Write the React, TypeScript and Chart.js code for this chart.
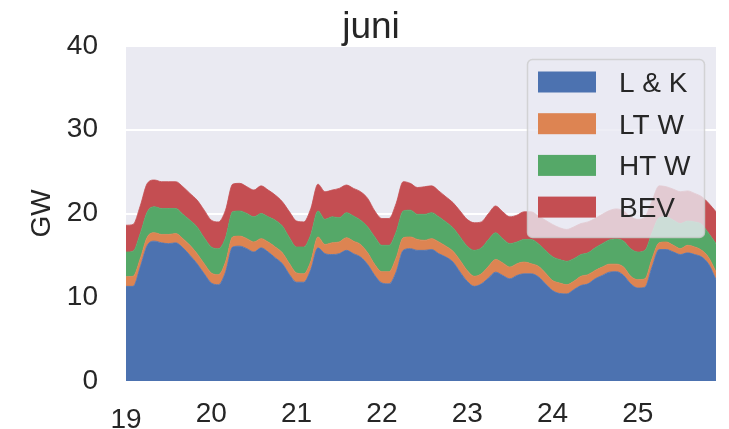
import React, { useEffect, useRef } from "react";
import { Chart, registerables } from "chart.js";

Chart.register(...registerables);

// ---- data ----
const title = "juni";
const yLabel = "GW";
const startDay = 19;
// hours since 19 juni 00:00
const hours = [
  0, 2, 4, 6, 8, 10, 12, 14, 16, 18, 20, 22,
  24, 26, 28, 30, 32, 34, 36, 38, 40, 42, 44, 46,
  48, 50, 52, 54, 56, 58, 60, 62, 64, 66, 68, 70,
  72, 74, 76, 78, 80, 82, 84, 86, 88, 90, 92, 94,
  96, 98, 100, 102, 104, 106, 108, 110, 112, 114, 116, 118,
  120, 122, 124, 126, 128, 130, 132, 134, 136, 138, 140, 142,
  144, 146, 148, 150, 152, 154, 156, 158, 160, 162, 164, 166,
];
const xTickDays = [19, 20, 21, 22, 23, 24, 25];
const yTicks = [0, 10, 20, 30, 40];
const seriesNames = ["L & K", "LT W", "HT W", "BEV"];

const lk = [
  11.3, 11.3, 13.6, 16.2, 16.7, 16.5, 16.4, 16.5, 15.9, 15.0, 14.0, 12.8,
  11.7, 11.5, 13.0, 16.0, 16.1, 15.8, 15.4, 15.9, 15.4, 14.7, 14.0, 12.7,
  11.8, 11.8, 13.3, 15.9, 15.2, 15.1, 15.2, 15.6, 15.2, 14.8, 13.9, 12.6,
  11.7, 11.6, 13.0, 15.6, 15.8, 15.6, 15.6, 15.7, 15.2, 14.8, 14.2, 13.0,
  11.9, 11.3, 11.6, 12.3, 13.0, 12.6, 12.2, 12.6, 12.8, 12.8, 12.45, 11.6,
  10.8, 10.45, 10.4, 10.9, 11.4, 11.6, 12.2, 12.6, 13.0, 13.05, 12.6, 11.6,
  11.1, 11.2, 13.6, 15.7, 15.7, 15.4, 15.1, 15.3, 15.1, 14.8, 13.9, 12.1,
];
const ltw = [
  1.15, 1.2, 1.0, 1.0, 1.0, 1.0, 1.1, 1.1, 1.1, 1.2, 1.2, 1.2,
  1.2, 1.2, 1.2, 1.2, 1.2, 1.2, 1.2, 1.1, 1.2, 1.3, 1.3, 1.3,
  1.1, 1.0, 1.0, 1.3, 1.1, 1.4, 1.4, 1.5, 1.5, 1.5, 1.4, 1.3,
  1.35, 1.45, 1.7, 1.5, 1.4, 1.3, 1.2, 1.3, 1.4, 1.3, 1.3, 1.4,
  1.3, 1.2, 1.2, 1.4, 1.5, 1.5, 1.4, 1.4, 1.4, 1.2, 1.25, 1.3,
  1.2, 1.25, 1.1, 1.0, 1.1, 1.1, 1.0, 1.0, 0.95, 0.9, 1.0, 0.9,
  1.0, 1.0, 1.0, 0.8, 0.9, 0.8, 0.7, 0.9, 0.9, 0.8, 0.8, 0.95,
];
const htw = [
  2.95, 3.0, 3.0, 3.0, 3.1, 3.1, 3.1, 3.0, 2.9, 3.0, 3.2, 3.1,
  3.1, 3.1, 2.9, 3.0, 3.0, 3.0, 3.0, 3.0, 3.0, 3.2, 3.2, 3.1,
  3.1, 3.2, 3.2, 3.1, 3.0, 3.1, 2.9, 3.0, 3.0, 2.9, 3.1, 3.3,
  3.15, 3.15, 3.1, 3.2, 3.2, 3.0, 3.1, 3.1, 3.0, 2.9, 2.8, 2.8,
  2.9, 3.1, 3.1, 3.2, 3.2, 2.9, 2.8, 2.6, 2.7, 2.9, 2.7, 2.7,
  2.85, 2.8, 2.8, 2.7, 2.6, 2.6, 2.7, 2.8, 2.9, 3.0, 3.1, 3.3,
  3.3, 3.4, 3.1, 3.0, 3.0, 3.0, 3.0, 2.9, 3.0, 3.1, 2.9, 3.35,
];
const bev = [
  3.2, 3.2, 3.3, 3.4, 3.2, 3.2, 3.2, 3.2, 3.3, 3.2, 3.2, 3.3,
  3.2, 3.2, 3.3, 3.3, 3.3, 3.2, 3.2, 3.3, 3.2, 3.0, 2.9, 3.1,
  3.1, 3.0, 3.1, 3.2, 3.3, 3.2, 3.5, 3.3, 3.3, 3.4, 3.4, 3.1,
  3.2, 3.2, 3.4, 3.5, 3.2, 3.2, 3.3, 3.2, 3.1, 3.0, 3.0, 3.1,
  3.2, 3.3, 3.1, 3.1, 3.2, 3.2, 3.2, 3.2, 3.3, 3.3, 3.3, 3.6,
  3.85, 3.8, 3.8, 3.8, 3.7, 3.7, 3.5, 3.5, 3.5, 3.6, 3.6, 3.8,
  3.9, 4.0, 3.8, 3.8, 3.6, 3.7, 3.8, 3.6, 3.4, 3.3, 3.6, 3.8,
];

// ---- style ----
const colors = ["#4C72B0", "#DD8452", "#55A868", "#C44E52"];
const textColor = "#262626";
const axesBg = "#EAEAF2";
const FONT = '"Liberation Sans", Arial, Helvetica, sans-serif';

const bgPlugin = {
  id: "axesBg",
  beforeDraw(chart: any) {
    const { ctx, chartArea } = chart;
    ctx.save();
    ctx.fillStyle = axesBg;
    ctx.fillRect(chartArea.left, chartArea.top, chartArea.right - chartArea.left, chartArea.bottom - chartArea.top);
    ctx.restore();
  },
};

function roundRectPath(ctx: CanvasRenderingContext2D, x: number, y: number, w: number, h: number, r: number) {
  ctx.beginPath();
  ctx.moveTo(x + r, y);
  ctx.lineTo(x + w - r, y);
  ctx.arcTo(x + w, y, x + w, y + r, r);
  ctx.lineTo(x + w, y + h - r);
  ctx.arcTo(x + w, y + h, x + w - r, y + h, r);
  ctx.lineTo(x + r, y + h);
  ctx.arcTo(x, y + h, x, y + h - r, r);
  ctx.lineTo(x, y + r);
  ctx.arcTo(x, y, x + r, y, r);
  ctx.closePath();
}

const legendPlugin = {
  id: "customLegend",
  afterDatasetsDraw(chart: any) {
    const { ctx, chartArea } = chart;
    ctx.save();
    const w = 177;
    const h = 178;
    const x = chartArea.right - 12 - w + 0.5;
    const y = chartArea.top + 13.5;
    roundRectPath(ctx, x, y, w, h, 5);
    ctx.fillStyle = "rgba(234,234,242,0.8)";
    ctx.fill();
    ctx.strokeStyle = "rgba(204,204,204,0.8)";
    ctx.lineWidth = 1.5;
    ctx.stroke();
    ctx.font = `28px ${FONT}`;
    ctx.textAlign = "left";
    ctx.textBaseline = "alphabetic";
    chart.data.datasets.forEach((ds: any, i: number) => {
      const cy = y + 22.5 + i * 41.7;
      ctx.fillStyle = ds.backgroundColor;
      ctx.fillRect(x + 10.5, cy - 10.5, 58, 21);
      ctx.fillStyle = textColor;
      ctx.fillText(ds.label, x + 91.5, cy + 10);
    });
    ctx.restore();
  },
};

const textPlugin = {
  id: "texts",
  afterDraw(chart: any) {
    const { ctx, chartArea } = chart;
    const xs = chart.scales.x;
    ctx.save();
    ctx.fillStyle = textColor;
    // title
    ctx.font = `37px ${FONT}`;
    ctx.textAlign = "center";
    ctx.textBaseline = "alphabetic";
    ctx.fillText(title, 371, chartArea.top - 8);
    // x tick labels
    ctx.font = `28px ${FONT}`;
    xTickDays.forEach((d, i) => {
      const px = xs.getPixelForValue(d);
      ctx.fillText(String(d), px, chartArea.bottom + (i === 0 ? 47 : 41));
    });
    // y label
    ctx.translate(40, (chartArea.top + chartArea.bottom) / 2);
    ctx.rotate(-Math.PI / 2);
    ctx.fillText(yLabel, 0, 10);
    ctx.restore();
  },
};

export default function App() {
  const canvasRef = useRef<HTMLCanvasElement | null>(null);

  useEffect(() => {
    document.body.style.margin = "0";
    const canvas = canvasRef.current;
    if (!canvas) return;
    const xVals = hours.map((h) => startDay + h / 24);
    const series = [lk, ltw, htw, bev];
    const chart = new Chart(canvas, {
      type: "line",
      data: {
        datasets: series.map((vals, i) => ({
          label: seriesNames[i],
          data: vals.map((v, j) => ({ x: xVals[j], y: v })),
          backgroundColor: colors[i],
          borderColor: colors[i],
          borderWidth: 0.8,
          pointRadius: 0,
          fill: i === 0 ? "origin" : "-1",
          cubicInterpolationMode: "monotone" as const,
        })),
      },
      options: {
        animation: false,
        responsive: false,
        maintainAspectRatio: false,
        layout: { padding: { left: 0, right: 13, top: 46, bottom: 0 } },
        plugins: {
          legend: { display: false },
          title: { display: false },
          tooltip: { enabled: false },
        },
        scales: {
          x: {
            type: "linear",
            min: startDay,
            max: startDay + hours[hours.length - 1] / 24,
            grid: { display: false },
            border: { display: false },
            ticks: { display: false, stepSize: 1 },
            afterFit(scale: any) {
              scale.height = 48;
            },
          },
          y: {
            stacked: true,
            min: yTicks[0],
            max: yTicks[yTicks.length - 1],
            grid: { color: "#FFFFFF", lineWidth: 2, drawTicks: false },
            border: { display: false },
            ticks: {
              stepSize: 10,
              padding: 28,
              color: textColor,
              font: { size: 28, family: FONT },
            },
            afterFit(scale: any) {
              scale.width = 126;
            },
          },
        },
      },
      plugins: [bgPlugin, legendPlugin, textPlugin],
    });
    return () => chart.destroy();
  }, []);

  return (
    <div style={{ position: "absolute", left: 0, top: 0, width: 729, height: 429, background: "#fff" }}>
      <canvas ref={canvasRef} width={729} height={429} style={{ width: 729, height: 429 }} />
    </div>
  );
}
